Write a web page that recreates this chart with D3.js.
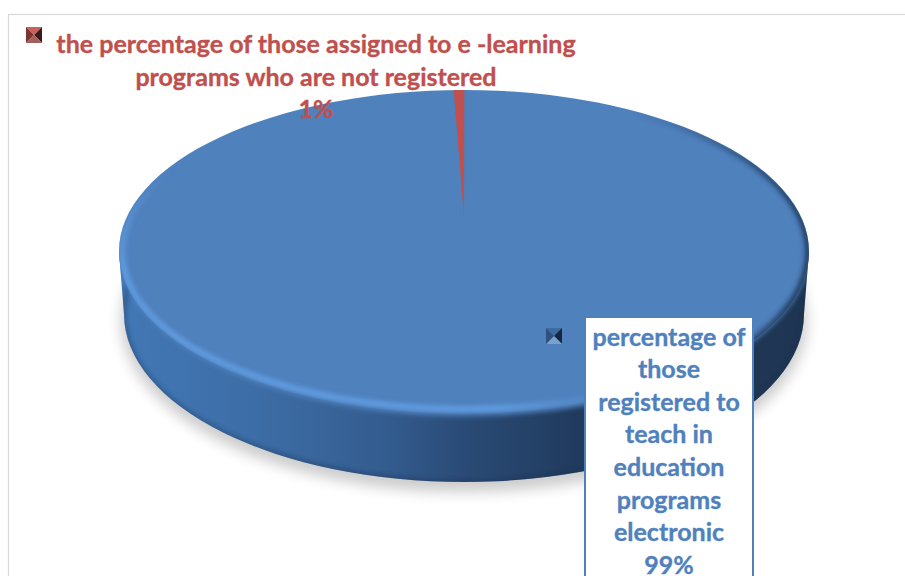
<!DOCTYPE html>
<html>
<head>
<meta charset="utf-8">
<script src="https://cdnjs.cloudflare.com/ajax/libs/d3/7.8.5/d3.min.js"></script>
<style>
html, body { margin: 0; padding: 0; background: #fff; overflow: hidden; }
svg { display: block; }
text { font-family: Lato, "Open Sans", sans-serif; font-weight: 700; text-anchor: middle; stroke-width: 0.35; }
</style>
</head>
<body>
<svg id="chart" width="905" height="576"></svg>
<script>
// slices, clockwise from just right of twelve o'clock
const categories = ["registered", "not registered"];
const sliceValues = [99.5, 0.5];
const blueLines = ["percentage of", "those", "registered to", "teach in", "education", "programs", "electronic", "99%"];
const redLines = ["the percentage of those assigned to e -learning", "programs who are not registered", "1%"];

const svg = d3.select("#chart");
const defs = svg.append("defs");

const blue = "#4f81bd", red = "#c0504d";
const cx = 464, cy = 252, rx = 345, ry = 162;
const baseCy = 314, baseRx = 340, baseRy = 168;

function gradient(id, x1, y1, x2, y2, stops) {
    const g = defs.append("linearGradient").attr("id", id)
        .attr("gradientUnits", "userSpaceOnUse")
        .attr("x1", x1).attr("y1", y1).attr("x2", x2).attr("y2", y2);
    stops.forEach(s => g.append("stop").attr("offset", s[0]).attr("stop-color", s[1]).attr("stop-opacity", s[2] === undefined ? 1 : s[2]));
}
function blur(id, amount) {
    defs.append("filter").attr("id", id).attr("x", "-10%").attr("y", "-10%").attr("width", "120%").attr("height", "120%")
        .append("feGaussianBlur").attr("stdDeviation", amount);
}

gradient("wall", cx - rx, 0, cx + rx, 0, [[0, "#4278b6"], [0.2, "#3d6da6"], [0.38, "#345d90"], [0.5, "#2a4b76"], [0.66, "#213b5e"], [1, "#1e3552"]]);
gradient("rimLight", 0, 170, 0, 270, [[0, "#66a6ee", 0], [1, "#66a6ee", 0.9]]);
gradient("rimDark", cx + 170, 0, cx + rx, 0, [[0, "#1a2f4d", 0], [1, "#1a2f4d", 1]]);
gradient("rimFade", cx - rx, 0, cx + rx, 0, [[0, "#fff"], [0.55, "#fff"], [0.72, "#000"], [1, "#000"]]);
defs.append("mask").attr("id", "leftOnly").attr("maskUnits", "userSpaceOnUse")
    .attr("x", 0).attr("y", 0).attr("width", 905).attr("height", 576)
    .append("rect").attr("width", 905).attr("height", 576).attr("fill", "url(#rimFade)");

blur("blurShadow", 7);
blur("blurEdge", 2.6);
blur("blurRim", 2.4);

const wallD = `M${cx - rx},${cy} L${cx - baseRx},${baseCy}
    A${baseRx},${baseRy} 0 0 0 ${cx + baseRx},${baseCy} L${cx + rx},${cy} Z`;
defs.append("clipPath").attr("id", "wallClip").append("path").attr("d", wallD);
defs.append("clipPath").attr("id", "face").append("ellipse")
    .attr("cx", cx).attr("cy", cy).attr("rx", rx).attr("ry", ry);

// chart frame, runs off the page on the right and bottom
svg.append("rect").attr("x", 8.5).attr("y", 14.5).attr("width", 1000).attr("height", 700)
    .attr("fill", "#fff").attr("stroke", "#d9d9d9").attr("stroke-width", 1.2);

// shadow under the disc
svg.append("ellipse").attr("cx", cx).attr("cy", baseCy + 7).attr("rx", baseRx + 3).attr("ry", baseRy + 3)
    .attr("fill", "#000").attr("opacity", 0.2).attr("filter", "url(#blurShadow)");

// wall
svg.append("path").attr("d", wallD).attr("fill", "url(#wall)");
// soft dark line along the foot of the wall
svg.append("g").attr("clip-path", "url(#wallClip)").append("ellipse")
    .attr("cx", cx).attr("cy", baseCy).attr("rx", baseRx).attr("ry", baseRy)
    .attr("fill", "none").attr("stroke", "#1a2f4d").attr("stroke-width", 3).attr("opacity", 0.6)
    .attr("filter", "url(#blurRim)");
// the face melts into the wall
svg.append("g").attr("clip-path", "url(#wallClip)").append("ellipse")
    .attr("cx", cx).attr("cy", cy).attr("rx", rx).attr("ry", ry + 2)
    .attr("fill", blue).attr("filter", "url(#blurEdge)");

// top face
svg.append("ellipse").attr("cx", cx).attr("cy", cy - 1).attr("rx", rx).attr("ry", ry - 1).attr("fill", blue);

const faceGroup = svg.append("g").attr("clip-path", "url(#face)");
faceGroup.append("ellipse").attr("cx", cx).attr("cy", cy).attr("rx", rx - 1).attr("ry", ry - 1)
    .attr("fill", "none").attr("stroke", "url(#rimDark)").attr("stroke-width", 5)
    .attr("filter", "url(#blurEdge)");
faceGroup.append("g").attr("mask", "url(#leftOnly)").append("ellipse")
    .attr("cx", cx).attr("cy", cy).attr("rx", rx - 3).attr("ry", ry - 5)
    .attr("fill", "none").attr("stroke", "url(#rimLight)").attr("stroke-width", 5)
    .attr("filter", "url(#blurRim)");

const start = 0.001;
const pie = d3.pie().sort(null).value(d => d).startAngle(start).endAngle(start + Math.PI * 2);
const slices = pie(sliceValues);
const arc = d3.arc().innerRadius(0).outerRadius(1);

// perspective: the apex of the slices sits behind the face's middle
const apexY = 217, apexRy = 127;
svg.append("g").selectAll("path").data(slices).join("path")
    .filter(d => categories[d.index] === "not registered")
    .attr("transform", `translate(${cx},${apexY}) scale(${rx},${apexRy})`)
    .attr("d", arc)
    .attr("fill", red);

// legend keys, small bevelled squares
function key(x, y, size, shades) {
    const m = size / 2;
    const g = svg.append("g").attr("transform", `translate(${x},${y})`);
    const corners = [[0, 0], [size, 0], [size, size], [0, size]];
    shades.forEach((c, i) => {
        const a = corners[i], b = corners[(i + 1) % 4];
        g.append("path").attr("d", d3.line()([a, b, [m, m]])).attr("fill", c);
    });
}
key(26, 27, 16, ["#c9605c", "#3d1a19", "#a5605d", "#7c3431"]);
key(546, 328, 16, ["#3e6ba0", "#16263f", "#7ba0cc", "#2d5282"]);

// labels
svg.append("g").selectAll("text").data(redLines).join("text")
    .attr("x", 316)
    .attr("y", (d, i) => 53 + i * 32.6)
    .attr("font-size", 25)
    .attr("fill", red).attr("stroke", red)
    .text(d => d);

svg.append("rect").attr("x", 585).attr("y", 317).attr("width", 168).attr("height", 300)
    .attr("fill", "#fff").attr("stroke", blue).attr("stroke-width", 2);
svg.append("g").selectAll("text").data(blueLines).join("text")
    .attr("x", 669)
    .attr("y", (d, i) => 345.5 + i * 32.6)
    .attr("font-size", 25)
    .attr("fill", blue).attr("stroke", blue)
    .text(d => d);
</script>
</body>
</html>
